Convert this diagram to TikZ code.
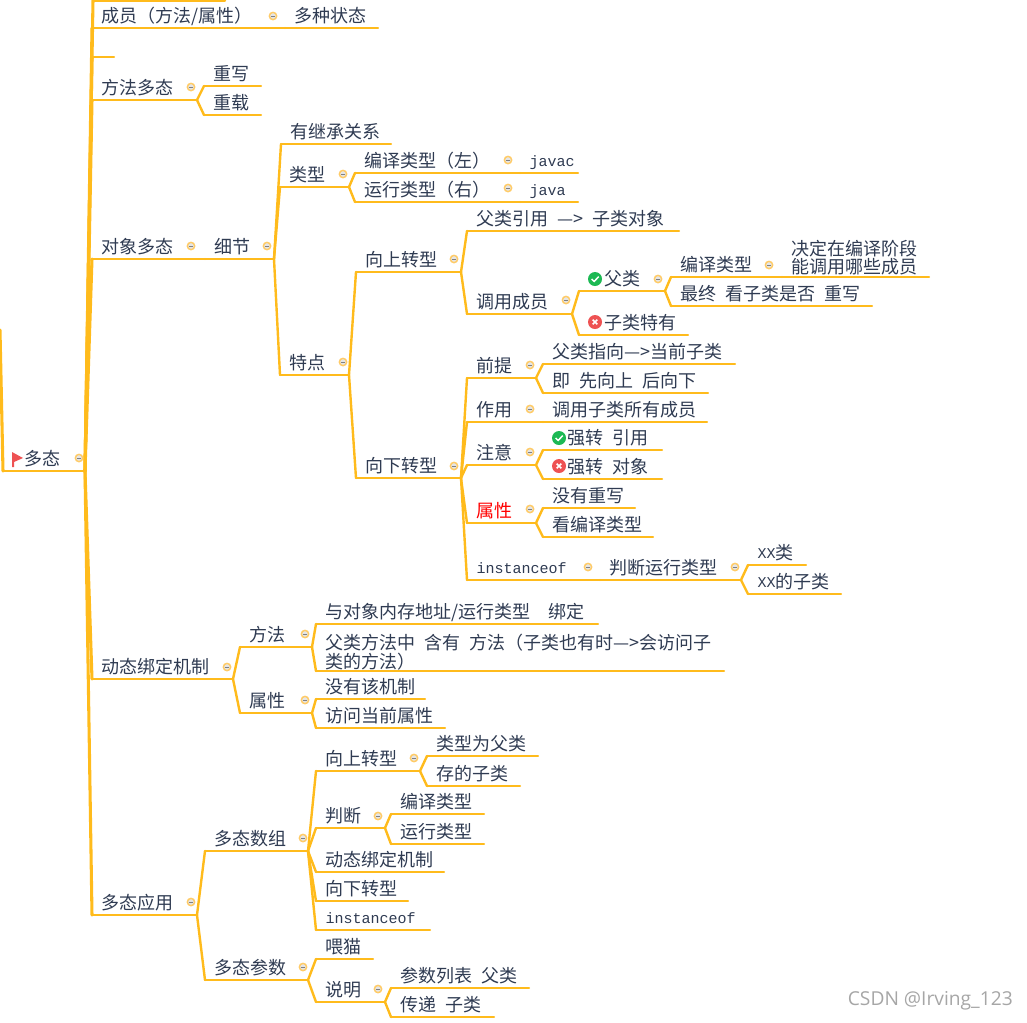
\documentclass[tikz,border=0pt]{standalone}
\usepackage{fontspec}
\setmainfont{Noto Sans CJK SC}
\setmonofont{Liberation Mono}
\newfontfamily\markfont{Open Sans}
\definecolor{branchcol}{HTML}{FFBB1C}
\definecolor{inkcol}{HTML}{2F3B52}
\definecolor{ringcol}{HTML}{FFCB66}
\definecolor{okcol}{HTML}{1DB954}
\definecolor{badcol}{HTML}{EE5253}
\newcommand{\gap}{\hspace{.5em}}
\newcommand{\mono}[1]{\raisebox{.8pt}{\ttfamily\fontsize{11.25}{12}\selectfont #1}}
\tikzset{
    branch/.style={branchcol, line width=1.8pt, line cap=round, line join=round},
    mainbranch/.style={branchcol, line width=2.3pt, line cap=round, line join=round},
    topic/.style={anchor=south west, text=inkcol, font=\fontsize{13.5}{12}\selectfont,
        text width=#1*0.75pt-14.6pt, align=left, inner xsep=7.3pt, inner ysep=3.8pt,
        outer sep=0pt, text depth=0pt,
        append after command={(\tikzlastnode.south west) edge[branch] (\tikzlastnode.south east)}},
    fold/.style={circle, draw=ringcol, line width=1.1pt, fill=gray!20, inner sep=0pt, minimum size=5.5pt,
        path picture={\draw[gray, line width=.6pt] ([xshift=-1.5pt]path picture bounding box.center) -- ([xshift=1.5pt]path picture bounding box.center);}},
    okmark/.style={circle, fill=okcol, inner sep=0pt, minimum size=10.5pt,
        path picture={\draw[white, line width=1.1pt] ([shift={(-2.6pt,0pt)}]path picture bounding box.center) -- ([shift={(-.6pt,-1.8pt)}]path picture bounding box.center) -- ([shift={(2.8pt,1.8pt)}]path picture bounding box.center);}},
    badmark/.style={circle, fill=badcol, inner sep=0pt, minimum size=10.5pt,
        path picture={\draw[white, line width=1.1pt] ([shift={(-1.7pt,-1.7pt)}]path picture bounding box.center) -- ([shift={(1.7pt,1.7pt)}]path picture bounding box.center) ([shift={(-1.7pt,1.7pt)}]path picture bounding box.center) -- ([shift={(1.7pt,-1.7pt)}]path picture bounding box.center);}},
}
\begin{document}
\begin{tikzpicture}[x=0.75pt, y=-0.75pt]
    \useasboundingbox (0,0) rectangle (1027,1022);

    % Root
    \coordinate (rootin) at (0,330);
    \node[topic=82] (root) at (3,471) {\hspace*{9pt}多态};
    \fill[badcol] (12,452) -- (23,458) -- (14,462) -- (14,467) -- (12,467) -- cycle;
    \draw[mainbranch] (rootin) -- (root.south west);

    % Top of the tree
    \coordinate (topcut) at (93,0.5);
    \coordinate (topcutend) at (225,0.5);
    \draw[branch] (topcut) -- (topcutend);
    \node[topic=193] (chengyuan) at (92,28) {成员（方法/属性）};
    \node[topic=93] (zhuangtai) at (285,28) {多种状态};
    \coordinate (blank) at (92,57);
    \coordinate (blankend) at (114,57);
    \draw[branch] (blank) -- (blankend);
    \node[topic=105] (fangfa) at (92,100) {方法多态};
    \node[topic=57] (chongxie) at (204,86) {重写};
    \node[topic=57] (chongzai) at (204,115) {重载};

    % Object polymorphism
    \node[topic=113] (duixiang) at (92,259) {对象多态};
    \node[topic=69] (xijie) at (205,259) {细节};
    \node[topic=110] (jicheng) at (281,144) {有继承关系};
    \node[topic=69] (leixing) at (280,187) {类型};
    \node[topic=165] (bianyi) at (355,173) {编译类型（左）};
    \node[topic=58] (javac) at (520,173) {\mono{javac}};
    \node[topic=165] (yunxing) at (355,202) {运行类型（右）};
    \node[topic=58] (java) at (520,202) {\mono{java}};
    \node[topic=69] (tedian) at (280,375) {特点};

    % Upcast
    \node[topic=105] (shangzhuan) at (356,272) {向上转型};
    \node[topic=212] (yinyong) at (467,231) {父类引用\gap—>\gap 子类对象};
    \node[topic=105] (tiaoyong) at (467,314) {调用成员};
    \node[topic=86] (fulei) at (579,291) {\hspace*{11.5pt}父类};
    \node[okmark] (okfu) at (595,279) {};
    \node[topic=111] (bianyitype) at (671,277) {编译类型};
    \node[topic=147, text depth=12pt] (jueding) at (782,277) {决定在编译阶段\\能调用哪些成员};
    \node[topic=201] (zuizhong) at (671,306) {最终\gap 看子类是否\gap 重写};
    \node[topic=109] (zilei) at (579,335) {\hspace*{11.5pt}子类特有};
    \node[badmark] (badzi) at (595,322) {};

    % Downcast
    \node[topic=105] (xiazhuan) at (356,478) {向下转型};
    \node[topic=69] (qianti) at (467,378) {前提};
    \node[topic=192] (zhixiang) at (543,364) {父类指向—>当前子类};
    \node[topic=165] (xianshang) at (543,393) {即\gap 先向上\gap 后向下};
    \node[topic=76] (zuoyong) at (467,422) {作用};
    \node[topic=164] (suoyou) at (543,422) {调用子类所有成员};
    \node[topic=69] (zhuyi) at (467,465) {注意};
    \node[topic=119] (qiangyin) at (543,450) {\hspace*{11pt}强转\gap 引用};
    \node[okmark] (okyin) at (559,438) {};
    \node[topic=119] (qiangdui) at (543,479) {\hspace*{11pt}强转\gap 对象};
    \node[badmark] (baddui) at (559,466) {};
    \node[topic=69, text=red] (shuxing) at (467,523) {属性};
    \node[topic=92] (meiyou) at (543,508) {没有重写};
    \node[topic=110] (kanbianyi) at (543,537) {看编译类型};
    \node[topic=133] (instance) at (467,580) {\mono{instanceof}};
    \node[topic=141] (panduan) at (600,580) {判断运行类型};
    \node[topic=58] (xxlei) at (748,565) {\mono{XX}类};
    \node[topic=93] (xxzi) at (748,594) {\mono{XX}的子类};

    % Dynamic binding
    \node[topic=141] (dongtai) at (92,679) {动态绑定机制};
    \node[topic=72] (fangfab) at (240,647) {方法};
    \node[topic=282] (yuduixiang) at (316,624) {与对象内存地址/运行类型\gap\gap 绑定};
    \node[topic=408, text depth=12pt] (fufangfa) at (316,671) {父类方法中\gap 含有\gap 方法（子类也有时—>会访问子\\类的方法）};
    \node[topic=72] (shuxingb) at (240,713) {属性};
    \node[topic=109] (meiyoub) at (316,699) {没有该机制};
    \node[topic=129] (fangwen) at (316,728) {访问当前属性};

    % Applications
    \node[topic=105] (yingyong) at (92,915) {多态应用};
    \node[topic=103] (shuzu) at (205,851) {多态数组};
    \node[topic=104] (shangzhuanb) at (316,771) {向上转型};
    \node[topic=111] (leixingfu) at (427,756) {类型为父类};
    \node[topic=93] (cunzi) at (427,786) {存的子类};
    \node[topic=69] (panduanb) at (316,828) {判断};
    \node[topic=93] (bianyib) at (391,814) {编译类型};
    \node[topic=93] (yunxingb) at (391,844) {运行类型};
    \node[topic=128] (dongtaib) at (316,872) {动态绑定机制};
    \node[topic=92] (xiazhuanb) at (316,901) {向下转型};
    \node[topic=114] (instanceb) at (316,930) {\mono{instanceof}};
    \node[topic=103] (canshu) at (205,980) {多态参数};
    \node[topic=57] (weimao) at (316,959) {喂猫};
    \node[topic=69] (shuoming) at (316,1002) {说明};
    \node[topic=138] (canshulb) at (391,988) {参数列表\gap 父类};
    \node[topic=103] (chuandi) at (391,1017) {传递\gap 子类};

    % Trunk
    \draw[mainbranch] (root.south east) -- (topcut);
    \draw[mainbranch] (root.south east) -- (chengyuan.south west);
    \draw[mainbranch] (root.south east) -- (blank);
    \draw[mainbranch] (root.south east) -- (fangfa.south west);
    \draw[mainbranch] (root.south east) -- (duixiang.south west);
    \draw[mainbranch] (root.south east) -- (dongtai.south west);
    \draw[mainbranch] (root.south east) -- (yingyong.south west);

    % Connectors
    \draw[branch] (chengyuan.south east) -- (zhuangtai.south west);
    \draw[branch] (duixiang.south east) -- (xijie.south west);
    \draw[branch] (fangfa.south east) -- (chongxie.south west);
    \draw[branch] (fangfa.south east) -- (chongzai.south west);
    \draw[branch] (xijie.south east) -- (jicheng.south west);
    \draw[branch] (xijie.south east) -- (leixing.south west);
    \draw[branch] (xijie.south east) -- (tedian.south west);
    \draw[branch] (leixing.south east) -- (bianyi.south west);
    \draw[branch] (leixing.south east) -- (yunxing.south west);
    \draw[branch] (bianyi.south east) -- (javac.south west);
    \draw[branch] (yunxing.south east) -- (java.south west);
    \draw[branch] (tedian.south east) -- (shangzhuan.south west);
    \draw[branch] (tedian.south east) -- (xiazhuan.south west);
    \draw[branch] (shangzhuan.south east) -- (yinyong.south west);
    \draw[branch] (shangzhuan.south east) -- (tiaoyong.south west);
    \draw[branch] (tiaoyong.south east) -- (fulei.south west);
    \draw[branch] (tiaoyong.south east) -- (zilei.south west);
    \draw[branch] (fulei.south east) -- (bianyitype.south west);
    \draw[branch] (fulei.south east) -- (zuizhong.south west);
    \draw[branch] (bianyitype.south east) -- (jueding.south west);
    \draw[branch] (xiazhuan.south east) -- (qianti.south west);
    \draw[branch] (xiazhuan.south east) -- (zuoyong.south west);
    \draw[branch] (xiazhuan.south east) -- (zhuyi.south west);
    \draw[branch] (xiazhuan.south east) -- (shuxing.south west);
    \draw[branch] (xiazhuan.south east) -- (instance.south west);
    \draw[branch] (qianti.south east) -- (zhixiang.south west);
    \draw[branch] (qianti.south east) -- (xianshang.south west);
    \draw[branch] (zuoyong.south east) -- (suoyou.south west);
    \draw[branch] (zhuyi.south east) -- (qiangyin.south west);
    \draw[branch] (zhuyi.south east) -- (qiangdui.south west);
    \draw[branch] (shuxing.south east) -- (meiyou.south west);
    \draw[branch] (shuxing.south east) -- (kanbianyi.south west);
    \draw[branch] (instance.south east) -- (panduan.south west);
    \draw[branch] (panduan.south east) -- (xxlei.south west);
    \draw[branch] (panduan.south east) -- (xxzi.south west);
    \draw[branch] (dongtai.south east) -- (fangfab.south west);
    \draw[branch] (dongtai.south east) -- (shuxingb.south west);
    \draw[branch] (fangfab.south east) -- (yuduixiang.south west);
    \draw[branch] (fangfab.south east) -- (fufangfa.south west);
    \draw[branch] (shuxingb.south east) -- (meiyoub.south west);
    \draw[branch] (shuxingb.south east) -- (fangwen.south west);
    \draw[branch] (yingyong.south east) -- (shuzu.south west);
    \draw[branch] (yingyong.south east) -- (canshu.south west);
    \draw[branch] (shuzu.south east) -- (shangzhuanb.south west);
    \draw[branch] (shuzu.south east) -- (panduanb.south west);
    \draw[branch] (shuzu.south east) -- (dongtaib.south west);
    \draw[branch] (shuzu.south east) -- (xiazhuanb.south west);
    \draw[branch] (shuzu.south east) -- (instanceb.south west);
    \draw[branch] (shangzhuanb.south east) -- (leixingfu.south west);
    \draw[branch] (shangzhuanb.south east) -- (cunzi.south west);
    \draw[branch] (panduanb.south east) -- (bianyib.south west);
    \draw[branch] (panduanb.south east) -- (yunxingb.south west);
    \draw[branch] (canshu.south east) -- (weimao.south west);
    \draw[branch] (canshu.south east) -- (shuoming.south west);
    \draw[branch] (shuoming.south east) -- (canshulb.south west);
    \draw[branch] (shuoming.south east) -- (chuandi.south west);

    % Fold markers
    \node[fold] (foldroot) at (79,458) {};
    \node[fold] (foldcheng) at (273,16) {};
    \node[fold] (foldfang) at (191,87) {};
    \node[fold] (folddui) at (191,246) {};
    \node[fold] (foldxi) at (267,246) {};
    \node[fold] (foldlei) at (343,174) {};
    \node[fold] (foldbian) at (508,160) {};
    \node[fold] (foldyun) at (508,188) {};
    \node[fold] (foldte) at (343,362) {};
    \node[fold] (foldshang) at (454,259) {};
    \node[fold] (foldtiao) at (566,300) {};
    \node[fold] (foldfu) at (658,279) {};
    \node[fold] (foldtype) at (769,265) {};
    \node[fold] (foldxia) at (454,466) {};
    \node[fold] (foldqian) at (530,365) {};
    \node[fold] (foldzuo) at (530,409) {};
    \node[fold] (foldzhu) at (530,452) {};
    \node[fold] (foldshu) at (530,509) {};
    \node[fold] (foldinst) at (588,567) {};
    \node[fold] (foldpan) at (735,567) {};
    \node[fold] (folddong) at (227,667) {};
    \node[fold] (foldfangb) at (305,634) {};
    \node[fold] (foldshub) at (305,700) {};
    \node[fold] (foldying) at (191,902) {};
    \node[fold] (foldshuzu) at (303,838) {};
    \node[fold] (foldup) at (414,758) {};
    \node[fold] (foldpanb) at (378,816) {};
    \node[fold] (foldcan) at (303,967) {};
    \node[fold] (foldshuo) at (378,989) {};

    % Watermark
    \node[text=gray!70, font=\markfont\fontsize{14.4}{14}\selectfont, anchor=east, inner sep=0pt] (csdn) at (1013,1001) {CSDN @Irving\_123};
\end{tikzpicture}
\end{document}
